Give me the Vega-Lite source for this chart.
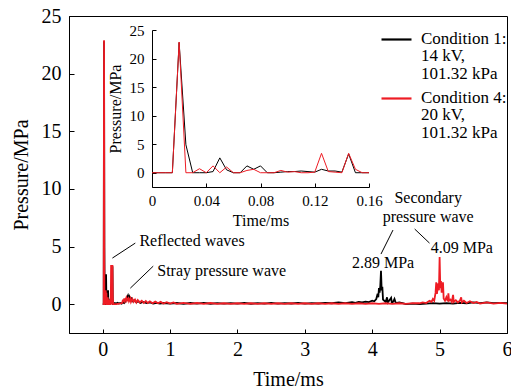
{
  "$schema": "https://vega.github.io/schema/vega-lite/v6.json",
  "width": 438,
  "height": 317,
  "autosize": "none",
  "padding": {"left": 69, "top": 16, "right": 4, "bottom": 59},
  "background": "white",
  "config": {
    "font": "Liberation Serif",
    "view": {"stroke": "black", "strokeWidth": 1},
    "axis": {"grid": false, "domainColor": "black", "tickColor": "black", "labelColor": "black", "titleColor": "black", "titleFontWeight": "normal", "labelFont": "Liberation Serif", "titleFont": "Liberation Serif", "labelFlush": false, "labelOverlap": false},
    "legend": {"orient": "none", "legendX": 311, "legendY": 7, "symbolType": "stroke", "symbolSize": 900, "symbolStrokeWidth": 2.2, "labelFont": "Liberation Serif", "labelFontSize": 17, "labelColor": "black", "labelOffset": 8, "rowPadding": -16, "labelBaseline": "top"}
  },
  "datasets": {
    "c1": [
      {"t":0,"p":0},{"t":0.005,"p":0},{"t":0.01,"p":0},{"t":0.015,"p":0},{"t":0.02,"p":22.8},{"t":0.025,"p":4.9},{"t":0.03,"p":0},{"t":0.035,"p":0},{"t":0.04,"p":0},{"t":0.045,"p":0.2},{"t":0.05,"p":2.6},{"t":0.055,"p":0.5},{"t":0.06,"p":0},{"t":0.065,"p":0},{"t":0.07,"p":1.2},{"t":0.075,"p":0.6},{"t":0.08,"p":1.2},{"t":0.085,"p":0},{"t":0.09,"p":0},{"t":0.095,"p":0.1},{"t":0.1,"p":0.2},{"t":0.105,"p":0.2},{"t":0.11,"p":0.3},{"t":0.115,"p":0.2},{"t":0.12,"p":0.1},{"t":0.125,"p":0.6},{"t":0.13,"p":0.3},{"t":0.135,"p":0.3},{"t":0.14,"p":0.1},{"t":0.145,"p":3.3},{"t":0.15,"p":0},{"t":0.155,"p":0},{"t":0.16,"p":0},
      {"t":0.18,"p":0.1},{"t":0.2,"p":0.05},{"t":0.22,"p":0.12},{"t":0.24,"p":0.05},{"t":0.26,"p":0.1},{"t":0.28,"p":0.05},{"t":0.3,"p":0.15},{"t":0.32,"p":0.1},{"t":0.34,"p":0.3},{"t":0.36,"p":0.55},{"t":0.375,"p":0.75},{"t":0.385,"p":0.5},{"t":0.395,"p":0.65},{"t":0.41,"p":0.35},{"t":0.43,"p":0.5},{"t":0.45,"p":0.25},{"t":0.47,"p":0.35},{"t":0.5,"p":0.15},{"t":0.53,"p":0.25},{"t":0.56,"p":0.1},{"t":0.6,"p":0.2},{"t":0.65,"p":0.1},{"t":0.7,"p":0.15},{"t":0.75,"p":0.05},{"t":0.8,"p":0.12},{"t":0.85,"p":0.05},{"t":0.9,"p":0.1},{"t":1.0,"p":0.05},{"t":1.1,"p":0.1},{"t":1.2,"p":0.03},{"t":1.3,"p":0.1},{"t":1.4,"p":0.05},{"t":1.5,"p":0.12},{"t":1.6,"p":0.04},{"t":1.7,"p":0.1},{"t":1.8,"p":0.05},{"t":1.9,"p":0.1},{"t":2.0,"p":0.05},{"t":2.1,"p":0.12},{"t":2.2,"p":0.04},{"t":2.3,"p":0.1},{"t":2.4,"p":0.05},{"t":2.5,"p":0.12},{"t":2.6,"p":0.05},{"t":2.7,"p":0.1},{"t":2.8,"p":0.06},{"t":2.9,"p":0.12},{"t":3.0,"p":0.05},{"t":3.1,"p":0.1},{"t":3.2,"p":0.06},{"t":3.3,"p":0.12},{"t":3.4,"p":0.08},{"t":3.5,"p":0.15},{"t":3.6,"p":0.1},{"t":3.7,"p":0.18},{"t":3.75,"p":0.12},{"t":3.8,"p":0.2},{"t":3.85,"p":0.15},{"t":3.9,"p":0.22},{"t":3.95,"p":0.18},{"t":4.0,"p":0.3},{"t":4.03,"p":0.25},{"t":4.06,"p":0.45},{"t":4.08,"p":0.9},{"t":4.09,"p":0.6},{"t":4.1,"p":1.4},{"t":4.11,"p":1.0},{"t":4.12,"p":1.6},{"t":4.13,"p":2.89},{"t":4.14,"p":1.2},{"t":4.15,"p":1.5},{"t":4.16,"p":0.4},{"t":4.18,"p":0.3},{"t":4.2,"p":0.2},{"t":4.22,"p":0.6},{"t":4.23,"p":0.15},{"t":4.25,"p":0.3},{"t":4.28,"p":0.55},{"t":4.29,"p":0.15},{"t":4.31,"p":0.2},{"t":4.33,"p":0.45},{"t":4.35,"p":0.1},{"t":4.4,"p":0.15},{"t":4.45,"p":0.1},{"t":4.5,"p":0.0},{"t":4.6,"p":0.05},{"t":4.7,"p":0.0},{"t":4.8,"p":0.05},{"t":4.9,"p":0.1},{"t":5.0,"p":0.05},{"t":5.1,"p":0.1},{"t":5.2,"p":0.05},{"t":5.3,"p":0.12},{"t":5.4,"p":0.08},{"t":5.5,"p":0.15},{"t":5.6,"p":0.1},{"t":5.7,"p":0.15},{"t":5.8,"p":0.1},{"t":5.9,"p":0.12},{"t":6.0,"p":0.1}
    ],
    "c4": [
      {"t":0,"p":0},{"t":0.005,"p":0},{"t":0.01,"p":0},{"t":0.015,"p":0},{"t":0.02,"p":22.9},{"t":0.025,"p":0},{"t":0.03,"p":0},{"t":0.035,"p":0.7},{"t":0.04,"p":0},{"t":0.045,"p":1.2},{"t":0.05,"p":0},{"t":0.055,"p":1.0},{"t":0.06,"p":0},{"t":0.065,"p":0},{"t":0.07,"p":0.4},{"t":0.075,"p":0.6},{"t":0.08,"p":0},{"t":0.085,"p":0},{"t":0.09,"p":0},{"t":0.095,"p":0.4},{"t":0.1,"p":0.1},{"t":0.105,"p":0.2},{"t":0.11,"p":0},{"t":0.115,"p":0},{"t":0.12,"p":0.1},{"t":0.125,"p":3.4},{"t":0.13,"p":0.2},{"t":0.135,"p":0.1},{"t":0.14,"p":0},{"t":0.145,"p":3.4},{"t":0.15,"p":0.6},{"t":0.155,"p":0},{"t":0.16,"p":0},
      {"t":0.2,"p":0.0},{"t":0.25,"p":0.05},{"t":0.29,"p":0.1},{"t":0.3,"p":0.4},{"t":0.31,"p":0.2},{"t":0.32,"p":0.5},{"t":0.33,"p":0.25},{"t":0.35,"p":0.55},{"t":0.36,"p":0.3},{"t":0.38,"p":0.5},{"t":0.39,"p":0.25},{"t":0.41,"p":0.5},{"t":0.42,"p":0.2},{"t":0.44,"p":0.45},{"t":0.46,"p":0.2},{"t":0.48,"p":0.4},{"t":0.5,"p":0.15},{"t":0.52,"p":0.35},{"t":0.55,"p":0.15},{"t":0.58,"p":0.3},{"t":0.61,"p":0.1},{"t":0.64,"p":0.28},{"t":0.67,"p":0.1},{"t":0.7,"p":0.25},{"t":0.74,"p":0.08},{"t":0.78,"p":0.22},{"t":0.82,"p":0.08},{"t":0.86,"p":0.2},{"t":0.9,"p":0.06},{"t":0.95,"p":0.18},{"t":1.0,"p":0.05},{"t":1.05,"p":0.15},{"t":1.1,"p":0.03},{"t":1.2,"p":0.12},{"t":1.3,"p":0.03},{"t":1.4,"p":0.1},{"t":1.5,"p":0.02},{"t":1.6,"p":0.1},{"t":1.7,"p":0.02},{"t":1.8,"p":0.08},{"t":1.9,"p":0.02},{"t":2.0,"p":0.08},{"t":2.1,"p":0.02},{"t":2.2,"p":0.08},{"t":2.3,"p":0.02},{"t":2.4,"p":0.08},{"t":2.5,"p":0.02},{"t":2.6,"p":0.08},{"t":2.7,"p":0.02},{"t":2.8,"p":0.08},{"t":2.9,"p":0.02},{"t":3.0,"p":0.08},{"t":3.1,"p":0.02},{"t":3.2,"p":0.08},{"t":3.3,"p":0.02},{"t":3.4,"p":0.08},{"t":3.5,"p":0.02},{"t":3.6,"p":0.08},{"t":3.7,"p":0.02},{"t":3.8,"p":0.08},{"t":3.9,"p":0.02},{"t":4.0,"p":0.08},{"t":4.1,"p":0.02},{"t":4.2,"p":0.08},{"t":4.3,"p":0.02},{"t":4.4,"p":0.08},{"t":4.5,"p":0.03},{"t":4.6,"p":0.1},{"t":4.7,"p":0.08},{"t":4.75,"p":0.15},{"t":4.8,"p":0.1},{"t":4.85,"p":0.3},{"t":4.88,"p":0.2},{"t":4.9,"p":0.45},{"t":4.92,"p":0.3},{"t":4.94,"p":1.0},{"t":4.95,"p":1.9},{"t":4.96,"p":0.9},{"t":4.98,"p":1.8},{"t":4.99,"p":1.2},{"t":5.0,"p":4.09},{"t":5.01,"p":1.4},{"t":5.02,"p":2.0},{"t":5.03,"p":1.0},{"t":5.05,"p":1.9},{"t":5.06,"p":0.5},{"t":5.08,"p":0.3},{"t":5.1,"p":0.6},{"t":5.12,"p":0.25},{"t":5.13,"p":0.95},{"t":5.14,"p":0.3},{"t":5.16,"p":0.4},{"t":5.18,"p":0.2},{"t":5.2,"p":0.8},{"t":5.21,"p":0.2},{"t":5.24,"p":0.35},{"t":5.27,"p":0.15},{"t":5.3,"p":0.3},{"t":5.32,"p":0.6},{"t":5.33,"p":0.15},{"t":5.36,"p":0.3},{"t":5.4,"p":0.1},{"t":5.45,"p":0.25},{"t":5.5,"p":0.1},{"t":5.55,"p":0.2},{"t":5.6,"p":0.05},{"t":5.7,"p":0.15},{"t":5.8,"p":0.05},{"t":5.9,"p":0.12},{"t":6.0,"p":0.05}
    ]
  },
  "layer": [
    {
      "layer": [
        {
          "data": {"name": "c1"},
          "mark": {"type": "line", "strokeWidth": 1.8},
          "encoding": {
            "x": {"field": "t", "type": "quantitative", "scale": {"domain": [-0.5, 6], "nice": false, "zero": false},
              "axis": {"title": "Time/ms", "values": [0,1,2,3,4,5,6], "format": "d", "labelFontSize": 20, "titleFontSize": 20, "tickSize": -4, "labelPadding": 10, "titlePadding": 10}},
            "y": {"field": "p", "type": "quantitative", "scale": {"domain": [-2.5, 25], "nice": false, "zero": false},
              "axis": {"title": "Pressure/MPa", "values": [0,5,10,15,20,25], "format": "d", "labelFontSize": 20, "titleFontSize": 20, "tickSize": -5, "labelPadding": 13, "titlePadding": 10}},
            "color": {"datum": "Condition 1", "type": "nominal",
              "scale": {"domain": ["Condition 1", "Condition 4"], "range": ["#000000", "#ee1c24"]},
              "legend": {"title": null, "labelExpr": "[datum.label + ':', datum.label == 'Condition 1' ? '14 kV,' : '20 kV,', '101.32 kPa']",
                "encode": {"labels": {"enter": {"lineHeight": {"value": 17.7}}, "update": {"lineHeight": {"value": 17.7}, "dy": {"value": -9}}}}}}
          }
        },
        {
          "data": {"name": "c4"},
          "mark": {"type": "line", "strokeWidth": 1.8},
          "encoding": {
            "x": {"field": "t", "type": "quantitative"},
            "y": {"field": "p", "type": "quantitative"},
            "color": {"datum": "Condition 4", "type": "nominal"}
          }
        },
        {
          "data": {"values": [
            {"t": 0.144, "p": 4.0, "t2": 0.484, "p2": 5.3},
            {"t": 0.41, "p": 1.39, "t2": 0.75, "p2": 3.3},
            {"t": 4.308, "p": 6.43, "t2": 4.13, "p2": 4.35},
            {"t": 4.63, "p": 6.52, "t2": 4.85, "p2": 5.3}
          ]},
          "mark": {"type": "rule", "color": "black", "strokeWidth": 1},
          "encoding": {
            "x": {"field": "t", "type": "quantitative"},
            "y": {"field": "p", "type": "quantitative"},
            "x2": {"field": "t2"},
            "y2": {"field": "p2"}
          }
        },
        {
          "data": {"values": [
            {"t": 0.545, "p": 5.48, "label": "Reflected waves"},
            {"t": 0.81, "p": 2.87, "label": "Stray pressure wave"}
          ]},
          "mark": {"type": "text", "align": "left", "baseline": "middle", "fontSize": 16, "font": "Liberation Serif", "color": "black"},
          "encoding": {
            "x": {"field": "t", "type": "quantitative"},
            "y": {"field": "p", "type": "quantitative"},
            "text": {"field": "label"}
          }
        },
        {
          "data": {"values": [
            {"t": 4.83, "p": 9.2, "label": "Secondary"},
            {"t": 4.83, "p": 7.57, "label": "pressure wave"},
            {"t": 4.16, "p": 3.57, "label": "2.89 MPa"},
            {"t": 5.33, "p": 4.87, "label": "4.09 MPa"}
          ]},
          "mark": {"type": "text", "align": "center", "baseline": "middle", "fontSize": 16, "font": "Liberation Serif", "color": "black"},
          "encoding": {
            "x": {"field": "t", "type": "quantitative"},
            "y": {"field": "p", "type": "quantitative"},
            "text": {"field": "label"}
          }
        }
      ]
    },
    {
      "layer": [
        {
          "mark": {"type": "rect", "fill": "white", "stroke": "black", "strokeWidth": 1},
          "encoding": {
            "x": {"datum": 0, "type": "quantitative", "scale": {"domain": [0, 0.16], "range": [83, 300], "nice": false, "zero": false},
              "axis": {"orient": "bottom", "offset": -146, "title": "Time/ms", "values": [0, 0.04, 0.08, 0.12, 0.16], "format": "~g", "labelFontSize": 15, "titleFontSize": 16, "tickSize": -4, "labelPadding": 10, "titlePadding": 4}},
            "x2": {"datum": 0.16},
            "y": {"datum": -2.5, "type": "quantitative", "scale": {"domain": [-2.5, 25], "range": [171, 14], "nice": false, "zero": false},
              "axis": {"orient": "left", "offset": -83, "title": "Pressure/MPa", "values": [0,5,10,15,20,25], "format": "d", "labelFontSize": 15, "titleFontSize": 16, "tickSize": -4, "labelPadding": 12, "titlePadding": 6}},
            "y2": {"datum": 25}
          }
        },
        {
          "data": {"name": "c1"},
          "transform": [{"filter": "datum.t <= 0.16"}],
          "mark": {"type": "line", "strokeWidth": 1},
          "encoding": {
            "x": {"field": "t", "type": "quantitative"},
            "y": {"field": "p", "type": "quantitative"},
            "color": {"datum": "Condition 1", "type": "nominal"}
          }
        },
        {
          "data": {"name": "c4"},
          "transform": [{"filter": "datum.t <= 0.16"}],
          "mark": {"type": "line", "strokeWidth": 1},
          "encoding": {
            "x": {"field": "t", "type": "quantitative"},
            "y": {"field": "p", "type": "quantitative"},
            "color": {"datum": "Condition 4", "type": "nominal"}
          }
        }
      ]
    }
  ],
  "resolve": {"scale": {"x": "independent", "y": "independent"}}
}
